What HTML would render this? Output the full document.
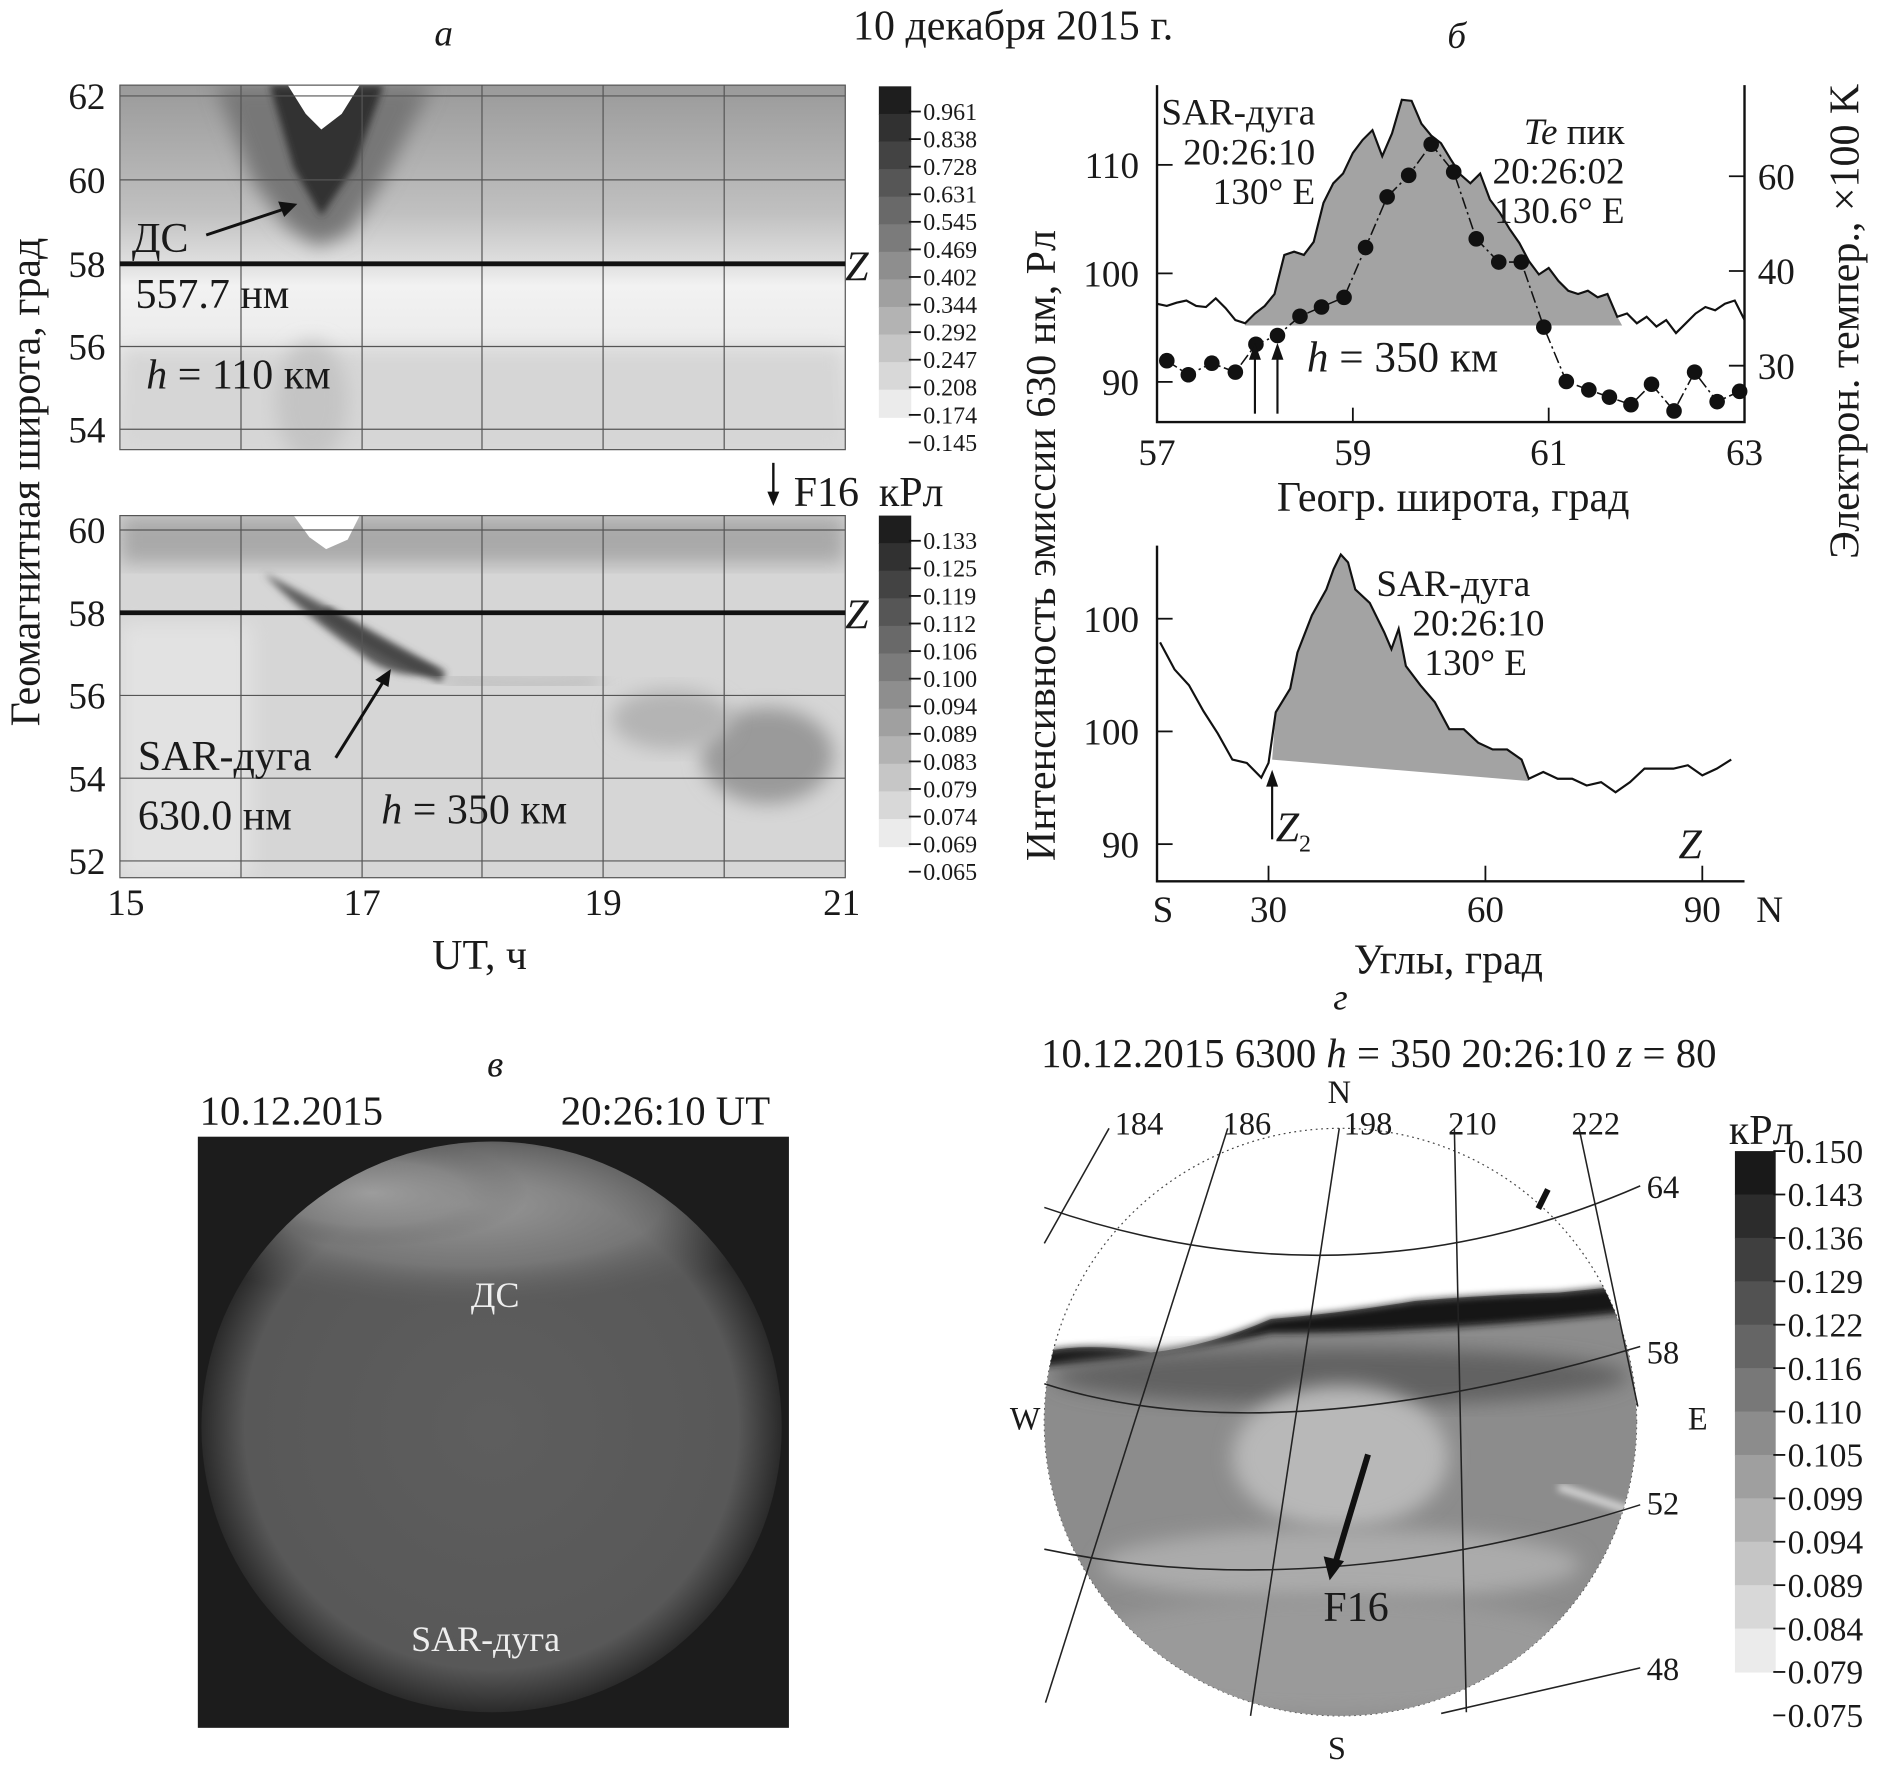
<!DOCTYPE html>
<html><head><meta charset="utf-8"><style>
html,body{margin:0;padding:0;background:#fff}
svg{display:block}
text{font-family:"Liberation Serif",serif;fill:#1a1a1a}
.t{font-size:31px}.L{font-size:35px}
.i{font-style:italic}
</style></head><body>
<svg id="fig" width="1880" height="1771" viewBox="0 0 1568 1477" preserveAspectRatio="none" xmlns="http://www.w3.org/2000/svg">
<defs>
<filter id="bl" x="-20%" y="-20%" width="140%" height="140%"><feGaussianBlur stdDeviation="8"/></filter>
<filter id="bl2"><feGaussianBlur stdDeviation="3"/></filter>
<clipPath id="cA1"><rect x="100" y="71" width="605" height="304"/></clipPath>
<clipPath id="cA2"><rect x="100" y="430" width="605" height="302"/></clipPath>
<clipPath id="cG"><ellipse cx="1118" cy="1186" rx="247" ry="245"/></clipPath>
<clipPath id="cV"><ellipse cx="410" cy="1190" rx="242" ry="238"/></clipPath>
<radialGradient id="gv" cx="0.5" cy="0.5" r="0.5"><stop offset="0" stop-color="#5e5e5e"/><stop offset="0.85" stop-color="#585858"/><stop offset="1" stop-color="#2a2a2a"/></radialGradient>
<radialGradient id="gb" cx="0.5" cy="0.5" r="0.5"><stop offset="0" stop-color="#a0a0a0" stop-opacity="0.9"/><stop offset="0.6" stop-color="#8a8a8a" stop-opacity="0.6"/><stop offset="1" stop-color="#5e5e5e" stop-opacity="0"/></radialGradient>
<linearGradient id="ga" x1="0" y1="0" x2="0" y2="1"><stop offset="0" stop-color="#9a9a9a"/><stop offset="0.35" stop-color="#c0c0c0"/><stop offset="0.5" stop-color="#e2e2e2"/><stop offset="0.55" stop-color="#f2f2f2"/><stop offset="0.7" stop-color="#ececec"/><stop offset="1" stop-color="#dadada"/></linearGradient>
</defs>

<text class="L" x="845" y="33" text-anchor="middle">10 декабря 2015 г.</text>
<text class="t i" x="370" y="38" text-anchor="middle">а</text>
<text class="t i" x="1215" y="40" text-anchor="middle">б</text>

<!-- ===== Panel a top ===== -->
<g clip-path="url(#cA1)">
<rect x="100" y="71" width="605" height="304" fill="url(#ga)"/>
<path d="M180,71 L360,71 L320,150 L290,195 L265,205 L240,190 L210,150 Z" fill="#777" filter="url(#bl)"/>
<path d="M225,71 L320,71 L295,140 L268,180 L245,140 Z" fill="#333" filter="url(#bl2)"/>
<path d="M240,71 L300,71 L285,95 L268,108 L255,95 Z" fill="#fff"/>
<rect x="100" y="290" width="605" height="85" fill="#d6d6d6" filter="url(#bl)"/>
<ellipse cx="260" cy="335" rx="30" ry="50" fill="#c4c4c4" filter="url(#bl)"/>
</g>
<g stroke="#555" stroke-width="1" fill="none">
<rect x="100" y="71" width="605" height="304"/>
<path d="M201,71V375M302,71V375M402,71V375M503,71V375M604,71V375M100,80H705M100,150H705M100,289H705M100,358H705"/>
</g>
<line x1="100" y1="220" x2="705" y2="220" stroke="#111" stroke-width="4"/>
<g class="t" text-anchor="end">
<text x="88" y="91">62</text><text x="88" y="161">60</text><text x="88" y="231">58</text><text x="88" y="300">56</text><text x="88" y="369">54</text>
</g>
<text class="L" x="110" y="210">ДС</text>
<line x1="172" y1="196" x2="238" y2="174" stroke="#111" stroke-width="2.5"/><path d="M248,170 L232,168 L237,181 Z" fill="#111"/>
<text class="L" x="113" y="257">557.7 нм</text>
<text class="L" x="122" y="324"><tspan class="i">h</tspan> = 110 км</text>
<text class="L i" x="705" y="234">Z</text>
<g id="cb1"></g>

<!-- ===== Panel a bottom ===== -->
<g clip-path="url(#cA2)">
<rect x="100" y="430" width="605" height="302" fill="#d6d6d6"/>
<rect x="100" y="430" width="605" height="40" fill="#a9a9a9" filter="url(#bl)"/>
<rect x="100" y="520" width="110" height="212" fill="#e2e2e2" filter="url(#bl)"/>
<path d="M220,478 Q300,520 370,560 Q330,570 300,545 Q250,510 220,478 Z" fill="#5a5a5a" filter="url(#bl2)"/>
<path d="M270,510 Q320,545 370,565" stroke="#444" stroke-width="9" fill="none" filter="url(#bl2)"/>
<path d="M370,565 Q420,575 500,568" stroke="#bdbdbd" stroke-width="14" fill="none" filter="url(#bl)"/>
<ellipse cx="640" cy="630" rx="55" ry="40" fill="#9a9a9a" filter="url(#bl)"/>
<ellipse cx="560" cy="600" rx="50" ry="25" fill="#b4b4b4" filter="url(#bl)"/>
<path d="M245,430 L300,430 L290,450 L272,458 L258,448 Z" fill="#fff"/>
</g>
<g stroke="#555" stroke-width="1" fill="none">
<rect x="100" y="430" width="605" height="302"/>
<path d="M201,430V732M302,430V732M402,430V732M503,430V732M604,430V732M100,442H705M100,580H705M100,649H705M100,718H705"/>
</g>
<line x1="100" y1="511" x2="705" y2="511" stroke="#111" stroke-width="4"/>
<g class="t" text-anchor="end">
<text x="88" y="453">60</text><text x="88" y="522">58</text><text x="88" y="591">56</text><text x="88" y="660">54</text><text x="88" y="729">52</text>
</g>
<g class="t" text-anchor="middle">
<text x="105" y="763">15</text><text x="302" y="763">17</text><text x="503" y="763">19</text><text x="702" y="763">21</text>
</g>
<text class="L" x="400" y="808" text-anchor="middle">UT, ч</text>
<text class="L" transform="translate(33,402) rotate(-90)" text-anchor="middle">Геомагнитная широта, град</text>
<text class="L i" x="705" y="524">Z</text>
<text class="L" x="115" y="642">SAR-дуга</text>
<text class="L" x="115" y="692">630.0 нм</text>
<text class="L" x="318" y="687"><tspan class="i">h</tspan> = 350 км</text>
<line x1="280" y1="632" x2="320" y2="568" stroke="#111" stroke-width="2.5"/><path d="M326,558 L313,567 L324,573 Z" fill="#111"/>
<line x1="645" y1="386" x2="645" y2="414" stroke="#111" stroke-width="2"/><path d="M645,422 L640,410 L650,410 Z" fill="#111"/>
<text class="L" x="662" y="422">F16</text>
<text class="L" x="733" y="422">кРл</text>
<g id="cb2"></g>

<!-- ===== Panel b top ===== -->
<g id="bTop"></g>
<text class="t" x="1097" y="104" text-anchor="end">SAR-дуга</text>
<text class="t" x="1097" y="137" text-anchor="end">20:26:10</text>
<text class="t" x="1097" y="170" text-anchor="end">130° E</text>
<text class="t" x="1355" y="120" text-anchor="end"><tspan class="i">Te</tspan> пик</text>
<text class="t" x="1355" y="153" text-anchor="end">20:26:02</text>
<text class="t" x="1355" y="186" text-anchor="end">130.6° E</text>
<text x="1090" y="310" style="font-size:36px"><tspan class="i">h</tspan> = 350 км</text>
<text class="L" x="1212" y="426" text-anchor="middle">Геогр. широта, град</text>
<text class="L" transform="translate(1550,268) rotate(-90)" text-anchor="middle">Электрон. темпер., ×100 K</text>
<text class="L" transform="translate(880,455) rotate(-90)" text-anchor="middle">Интенсивность эмиссии 630 нм, Рл</text>

<!-- ===== Panel b bottom ===== -->
<g id="bBot"></g>
<text class="t" x="1148" y="497">SAR-дуга</text>
<text class="t" x="1178" y="530">20:26:10</text>
<text class="t" x="1188" y="563">130° E</text>
<text class="L i" x="1400" y="716">Z</text>
<text class="L i" x="1064" y="702">Z<tspan style="font-size:20px;font-style:normal" dy="8">2</tspan></text>
<text class="L" x="1208" y="812" text-anchor="middle">Углы, град</text>

<!-- ===== Panel в ===== -->
<text class="t i" x="413" y="898" text-anchor="middle">в</text>
<text style="font-size:34px" x="243" y="938" text-anchor="middle">10.12.2015</text>
<text style="font-size:34px" x="555" y="938" text-anchor="middle">20:26:10 UT</text>
<g>
<rect x="165" y="948" width="493" height="493" fill="#1c1c1c"/>
<ellipse cx="410" cy="1190" rx="242" ry="238" fill="url(#gv)"/>
<g clip-path="url(#cV)">
<ellipse cx="390" cy="1005" rx="270" ry="85" fill="url(#gb)"/>
<ellipse cx="310" cy="995" rx="130" ry="45" fill="url(#gb)"/>
</g>
</g>
<text x="413" y="1090" text-anchor="middle" style="font-size:30px;fill:#eee">ДС</text>
<text x="405" y="1377" text-anchor="middle" style="font-size:30px;fill:#eee">SAR-дуга</text>

<!-- ===== Panel г ===== -->
<text class="t i" x="1118" y="842" text-anchor="middle">г</text>
<text x="1150" y="890" text-anchor="middle" style="font-size:34px">10.12.2015 6300 <tspan class="i">h</tspan> = 350 20:26:10 <tspan class="i">z</tspan> = 80</text>
<g>
<ellipse cx="1118" cy="1186" rx="247" ry="245" fill="none" stroke="#444" stroke-width="1" stroke-dasharray="1.5 3"/>
<g clip-path="url(#cG)">
<path d="M860,1130 Q900,1118 960,1128 Q1010,1122 1060,1100 Q1120,1095 1180,1085 Q1240,1080 1300,1078 L1380,1070 L1380,1450 L860,1450 Z" fill="#8c8c8c"/>
<path d="M860,1130 Q900,1118 960,1128 Q1010,1122 1060,1100 Q1120,1095 1180,1085 Q1240,1080 1300,1078 L1380,1070 L1380,1092 Q1200,1112 1060,1112 Q960,1135 860,1140 Z" fill="#151515" filter="url(#bl2)"/>
<ellipse cx="1118" cy="1148" rx="240" ry="24" fill="#626262" filter="url(#bl)"/>
<ellipse cx="1118" cy="1215" rx="90" ry="60" fill="#b8b8b8" filter="url(#bl)"/>
<ellipse cx="1118" cy="1305" rx="200" ry="30" fill="#ababab" filter="url(#bl)"/>
<ellipse cx="1110" cy="1380" rx="220" ry="50" fill="#9a9a9a" filter="url(#bl)"/>
<path d="M1300,1240 L1360,1260" stroke="#ddd" stroke-width="6" filter="url(#bl2)"/>
</g>
<g stroke="#222" stroke-width="1.3" fill="none">
<path d="M925,941 L871,1037"/><path d="M1024,941 L872,1420"/><path d="M1117,941 L1043,1431"/><path d="M1213,941 L1223,1428"/><path d="M1317,941 L1366,1173"/>
<path d="M871,1007 Q1125,1095 1368,989"/><path d="M871,1154 Q1060,1215 1368,1123"/><path d="M871,1292 Q1100,1340 1368,1255"/><path d="M1202,1429 L1368,1391"/>
</g>
<path d="M1283,1008 L1291,992" stroke="#111" stroke-width="5"/>
<line x1="1141" y1="1213" x2="1113" y2="1306" stroke="#111" stroke-width="5"/><path d="M1109,1318 L1104,1298 L1121,1302 Z" fill="#111"/>
</g>
<g style="font-size:27px" text-anchor="middle">
<text x="950" y="946">184</text><text x="1040" y="946">186</text><text x="1141" y="946">198</text><text x="1228" y="946">210</text><text x="1331" y="946">222</text>
<text x="1117" y="920">N</text><text x="1115" y="1467">S</text><text x="855" y="1192">W</text><text x="1416" y="1192">E</text>
<text x="1387" y="999">64</text><text x="1387" y="1137">58</text><text x="1387" y="1263">52</text><text x="1387" y="1401">48</text>
</g>
<text class="L" x="1131" y="1352" text-anchor="middle">F16</text>
<text class="L" x="1442" y="954">кРл</text>
<g id="cb3"></g>
</svg>
<script>
// ---- data: panel б top (lat, intensity in Rayleigh) ----
const latTop = [57.0,57.1,57.2,57.3,57.4,57.5,57.6,57.7,57.8,57.9,58.0,58.1,58.2,58.3,58.4,58.5,58.6,58.7,58.8,58.9,59.0,59.1,59.2,59.3,59.4,59.5,59.6,59.7,59.8,59.9,60.0,60.1,60.2,60.3,60.4,60.5,60.6,60.7,60.8,60.9,61.0,61.1,61.2,61.3,61.4,61.5,61.6,61.7,61.8,61.9,62.0,62.1,62.2,62.3,62.4,62.5,62.6,62.7,62.8,62.9,63.0];
const intensTop = [97.2,97.0,97.3,97.5,97.0,96.9,97.7,96.8,95.7,95.4,96.3,97.0,98.1,101.7,102.0,101.7,102.9,106.5,108.3,109.2,111.1,112.3,113.2,110.8,112.9,116.0,115.9,113.8,112.7,112.0,110.5,109.1,108.3,109.2,106.8,105.6,104.1,102.8,101.1,99.9,100.5,99.3,98.4,98.1,98.4,97.8,98.1,96.0,96.3,95.4,96.0,95.1,95.7,94.5,95.4,96.3,96.9,96.6,97.2,97.5,95.7];
const teLat = [57.10,57.32,57.56,57.80,58.01,58.23,58.46,58.68,58.91,59.13,59.35,59.57,59.80,60.03,60.26,60.49,60.72,60.95,61.18,61.41,61.62,61.84,62.05,62.28,62.49,62.72,62.95];
const teVal = [30.4,29.3,30.2,29.5,31.8,32.6,34.5,35.5,36.6,43.6,54.1,60.3,72.2,61.4,45.1,41.3,41.3,33.4,28.8,28.2,27.7,27.2,28.6,26.8,29.5,27.4,28.1];
const fillTop = [57.9, 61.75, 95.2];
const latTicks = [57,59,61,63];
const leftTicks = [90,100,110];
const rightTicks = [30,40,60];
const arrowLats = [58.0,58.23];
// ---- data: panel б bottom (angle, intensity) ----
const angBot = [15,17,19,21,23,25,27,29,30,31,33,34,36,38,39,40,41,42,44,46,47,48,49,51,53,55,57,59,61,63,65,66,68,70,72,74,76,78,80,82,84,86,88,90,92,94];
const intensBot = [107.9,105.5,104.1,101.8,99.8,97.5,97.2,95.9,97.2,101.7,103.8,107.0,110.3,112.6,114.4,115.7,115.0,112.6,111.4,108.8,107.3,109.1,105.8,104.1,102.6,100.2,100.2,99.0,98.4,98.4,97.5,95.8,96.4,95.8,95.8,95.2,95.5,94.6,95.5,96.7,96.7,96.7,97.0,96.1,96.7,97.5];
const fillBot = [30.5, 97.5, 66, 95.6];
const angTicks = [30,60,90];
const angLabels = ["30","60","90"];
const botYTicks = [90,100,110];
const botYLabels = ["90","100","100"];
// ---- colorbars ----
const cb1Labels = ["0.961","0.838","0.728","0.631","0.545","0.469","0.402","0.344","0.292","0.247","0.208","0.174","0.145"];
const cb2Labels = ["0.133","0.125","0.119","0.112","0.106","0.100","0.094","0.089","0.083","0.079","0.074","0.069","0.065"];
const cb3Labels = ["0.150","0.143","0.136","0.129","0.122","0.116","0.110","0.105","0.099","0.094","0.089","0.084","0.079","0.075"];

const NS="http://www.w3.org/2000/svg";
function mk(tag, attrs, parent){const e=document.createElementNS(NS,tag);for(const k in attrs)e.setAttribute(k,attrs[k]);parent.appendChild(e);return e;}

const xT = lat => 965 + (lat-57)*81.67;
const yL = v => 228 - (v-100)*9.05;
const yR = T => 147 + (1/T - 1/60)*9480;
const xB = a => 1058 + (a-30)*6.03;
const yB = v => 610 - (v-100)*9.4;

(function(){
 const g=document.getElementById('bTop');
 const pts=[];
 pts.push([xT(fillTop[0]), yL(fillTop[2])]);
 for(let i=0;i<latTop.length;i++){const L=latTop[i]; if(L>=fillTop[0]&&L<=fillTop[1]) pts.push([xT(L), yL(Math.max(intensTop[i],fillTop[2]))]);}
 pts.push([xT(fillTop[1]), yL(fillTop[2])]);
 const f=mk('polygon',{points:pts.map(p=>p.join(',')).join(' '),fill:'#a3a3a3'},g);
 
 
 const l=mk('polyline',{points:latTop.map((L,i)=>xT(L)+','+yL(intensTop[i])).join(' '),fill:'none',stroke:'#111','stroke-width':1.8},g);
 
 
 const tl=mk('polyline',{points:teLat.map((L,i)=>xT(L)+','+yR(teVal[i])).join(' '),fill:'none',stroke:'#111','stroke-width':1.3,'stroke-dasharray':'10 3 2 3'},g);
 
 
 teLat.forEach((L,i)=>{const c=mk('circle',{cx:xT(L),cy:yR(teVal[i]),r:6.5,fill:'#111'},g);
  
  });
 mk('path',{d:'M965,71V352H1455V71',fill:'none',stroke:'#111','stroke-width':2},g);
 latTicks.forEach(t=>{mk('line',{x1:xT(t),y1:352,x2:xT(t),y2:340,stroke:'#111','stroke-width':1.5},g);
  const tx=mk('text',{x:xT(t),y:388,'text-anchor':'middle',class:'t'},g);tx.textContent=t;
  
  });
 leftTicks.forEach(t=>{mk('line',{x1:965,y1:yL(t),x2:978,y2:yL(t),stroke:'#111','stroke-width':1.5},g);
  const tx=mk('text',{x:950,y:yL(t)+11,'text-anchor':'end',class:'t'},g);tx.textContent=t;
  
  });
 rightTicks.forEach(t=>{mk('line',{x1:1442,y1:yR(t),x2:1455,y2:yR(t),stroke:'#111','stroke-width':1.5},g);
  const tx=mk('text',{x:1466,y:yR(t)+11,class:'t'},g);tx.textContent=t;
  
  });
 arrowLats.forEach(L=>{mk('line',{x1:xT(L),y1:345,x2:xT(L),y2:298,stroke:'#111','stroke-width':1.8},g);
  mk('path',{d:`M${xT(L)},286 l-5,14 h10 z`,fill:'#111'},g);});
})();

(function(){
 const g=document.getElementById('bBot');
 const pts=[[xB(fillBot[0]),yB(fillBot[1])]];
 for(let i=0;i<angBot.length;i++){const a=angBot[i]; if(a>fillBot[0]&&a<fillBot[2]) pts.push([xB(a),yB(intensBot[i])]);}
 pts.push([xB(fillBot[2]),yB(fillBot[3])]);
 const f=mk('polygon',{points:pts.map(p=>p.join(',')).join(' '),fill:'#a3a3a3'},g);
 
 
 const l=mk('polyline',{points:angBot.map((a,i)=>xB(a)+','+yB(intensBot[i])).join(' '),fill:'none',stroke:'#111','stroke-width':1.8},g);
 
 
 mk('path',{d:'M965,455V735H1455',fill:'none',stroke:'#111','stroke-width':2},g);
 angTicks.forEach((t,i)=>{mk('line',{x1:xB(t),y1:735,x2:xB(t),y2:722,stroke:'#111','stroke-width':1.5},g);
  const tx=mk('text',{x:xB(t),y:769,'text-anchor':'middle',class:'t'},g);tx.textContent=angLabels[i];
  
  });
 const s=mk('text',{x:970,y:769,'text-anchor':'middle',class:'t'},g);s.textContent='S';
 const n=mk('text',{x:1476,y:769,'text-anchor':'middle',class:'t'},g);n.textContent='N';
 botYTicks.forEach((t,i)=>{mk('line',{x1:965,y1:yB(t),x2:978,y2:yB(t),stroke:'#111','stroke-width':1.5},g);
  const tx=mk('text',{x:950,y:yB(t)+11,'text-anchor':'end',class:'t'},g);tx.textContent=botYLabels[i];
  
  });
 const ax=xB(fillBot[0]);
 mk('line',{x1:ax,y1:700,x2:ax,y2:655,stroke:'#111','stroke-width':1.8},g);
 mk('path',{d:`M${ax},642 l-5,14 h10 z`,fill:'#111'},g);
})();

function colorbar(id,labels,x,y0,w,step,segs,fs,tickOff,dark,light){
 const g=document.getElementById(id);
 for(let i=0;i<segs;i++){const t=i/(segs-1);const c=Math.round(dark+(light-dark)*t);
  mk('rect',{x:x,y:y0+i*step,width:w,height:step+0.5,fill:`rgb(${c},${c},${c})`},g);}
 labels.forEach((lab,i)=>{const yy=y0+tickOff+i*step;
  mk('line',{x1:x+w-2,y1:yy,x2:x+w+8,y2:yy,stroke:'#111','stroke-width':1.5},g);
  const tx=mk('text',{x:x+w+10,y:yy+fs*0.35,style:`font-size:${fs}px`},g);tx.textContent=lab;
  
  });
}
colorbar('cb1',cb1Labels,733,72,27,23,12,20,21,30,235);
colorbar('cb2',cb2Labels,733,430,27,23,12,20,21,30,235);
colorbar('cb3',cb3Labels,1447,960,34,36.2,12,28,0,25,235);
</script>
</body></html>
